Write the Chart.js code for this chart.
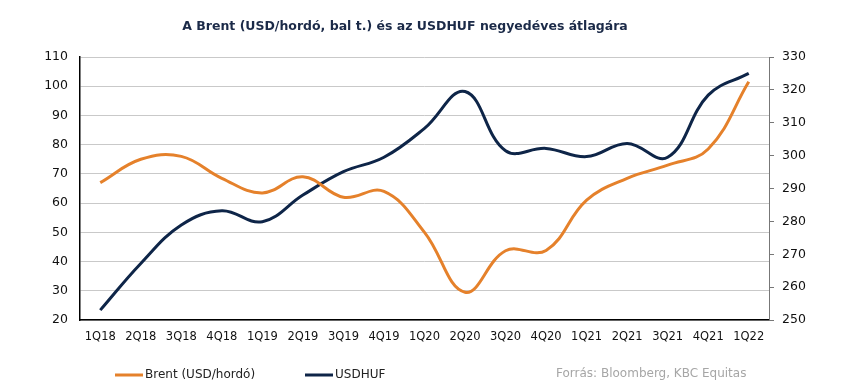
<!DOCTYPE html>
<html>
<head>
<meta charset="utf-8">
<script src="https://cdn.jsdelivr.net/npm/chart.js@4"></script>
<style>
  html, body { margin: 0; padding: 0; background: #fff; }
  #wrap { width: 850px; height: 386px; position: relative; }
</style>
</head>
<body>
<div id="wrap"><canvas id="myChart" width="850" height="386"></canvas></div>
<script>
const negyedevek = ['1Q18', '2Q18', '3Q18', '4Q18', '1Q19', '2Q19', '3Q19', '4Q19', '1Q20',
  '2Q20', '3Q20', '4Q20', '1Q21', '2Q21', '3Q21', '4Q21', '1Q22'];
const brent = [67, 75, 76, 68.5, 63.5, 69, 62, 64, 50, 29.5, 43.7, 43.8, 61, 68.5, 73, 78.5, 101.5];
const usdhuf = [253, 267.2, 278.9, 283.2, 279.9, 288, 295.1, 299.5, 308.3, 319.5, 301.5, 302.2,
  299.7, 303.7, 299.5, 318.4, 325];

const cim = 'A Brent (USD/hordó, bal t.) és az USDHUF negyedéves átlagára';
const forras = 'Forrás: Bloomberg, KBC Equitas';
const narancs = '#e5812b';
const sotetkek = '#0e2548';
const betu = "'DejaVu Sans', sans-serif";

// cím, jelmagyarázat és forrás kirajzolása
const szovegek = {
  id: 'szovegek',
  afterDraw(chart) {
    const c = chart.ctx;
    c.save();
    c.fillStyle = '#1b2a48';
    c.font = 'bold 12.5px ' + betu;
    c.textAlign = 'center';
    c.textBaseline = 'middle';
    c.fillText(cim, 405, 27);

    c.font = '12px ' + betu;
    c.textAlign = 'left';
    const jelek = [[115, 0], [305, 1]];
    jelek.forEach(([x, i]) => {
      const ds = chart.data.datasets[i];
      c.strokeStyle = ds.borderColor;
      c.lineWidth = 3;
      c.beginPath();
      c.moveTo(x, 375);
      c.lineTo(x + 28, 375);
      c.stroke();
      c.fillStyle = '#222';
      c.fillText(ds.label, x + 30, 375);
    });

    c.fillStyle = '#a6a6a6';
    c.fillText(forras, 556, 374);
    c.restore();
  }
};

const ctx = document.getElementById('myChart').getContext('2d');
const myChart = new Chart(ctx, {
  type: 'line',
  data: {
    labels: negyedevek,
    datasets: [
      {
        label: 'Brent (USD/hordó)',
        data: brent,
        borderColor: narancs,
        borderWidth: 3,
        pointRadius: 0,
        tension: 0.4,
        fill: false,
        yAxisID: 'y'
      },
      {
        label: 'USDHUF',
        data: usdhuf,
        borderColor: sotetkek,
        borderWidth: 3,
        pointRadius: 0,
        tension: 0.4,
        fill: false,
        yAxisID: 'y1'
      }
    ]
  },
  options: {
    responsive: false,
    animation: false,
    layout: { padding: { top: 57, left: 0, right: 0, bottom: 0 } },
    plugins: {
      legend: { display: false },
      title: { display: false },
      tooltip: { enabled: false }
    },
    scales: {
      x: {
        offset: true,
        grid: { display: false, drawTicks: false },
        border: { color: '#000', width: 1.5 },
        ticks: { color: '#111', font: { family: betu, size: 11.5 }, padding: 10, maxRotation: 0, autoSkip: false },
        afterFit(s) { s.height = 66; }
      },
      y: {
        position: 'left',
        min: 20,
        max: 110,
        ticks: { stepSize: 10, color: '#111', font: { family: betu, size: 12.5 }, padding: 12 },
        grid: { color: '#c9c9c9', lineWidth: 1, drawTicks: false },
        border: { color: '#000', width: 1.5 },
        afterFit(s) { s.width = 80; }
      },
      y1: {
        position: 'right',
        min: 250,
        max: 330,
        ticks: { stepSize: 10, color: '#111', font: { family: betu, size: 12.5 }, padding: 8 },
        grid: { drawOnChartArea: false, color: '#777', tickLength: 5 },
        border: { color: '#777', width: 1 },
        afterFit(s) { s.width = 81; }
      }
    }
  },
  plugins: [szovegek]
});
</script>
</body>
</html>
